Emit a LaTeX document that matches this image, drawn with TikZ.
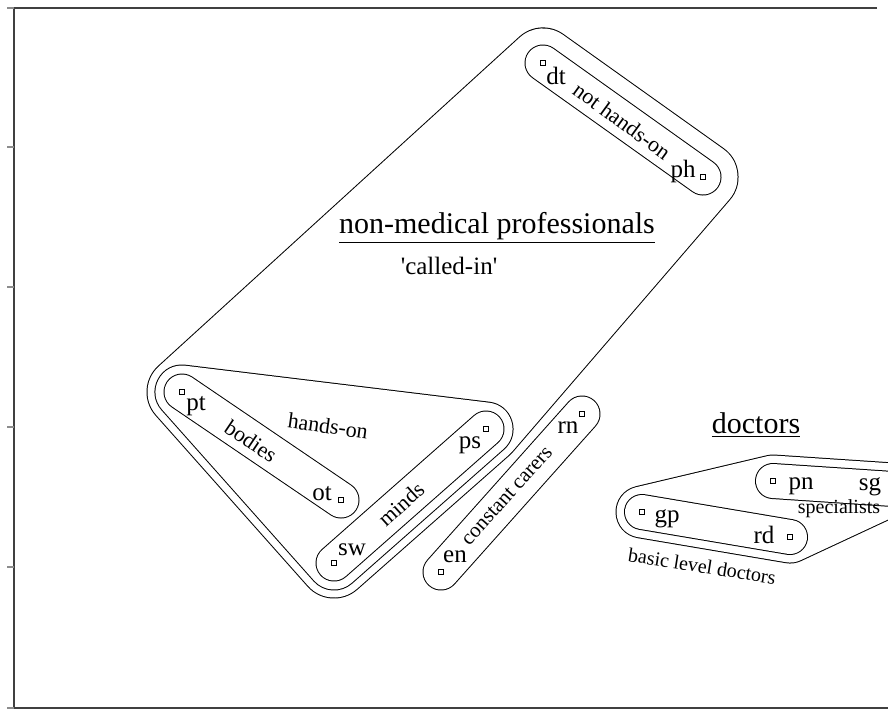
\documentclass[tikz,border=0pt]{standalone}
\usepackage{fontspec}
\setmainfont{Liberation Serif}
\usetikzlibrary{positioning}
\tikzset{
    obj/.style={
        draw,
        rectangle,
        minimum size=2.6pt,
        inner sep=0pt,
        line width=0.4pt,
    },
    objname/.style={font=\fontsize{12.5}{14}\selectfont, inner sep=0pt},
    grouplabel/.style={font=\fontsize{11}{13}\selectfont, inner sep=0pt},
    heading/.style={font=\fontsize{15}{18}\selectfont, inner sep=0pt},
    hull/.style={
        line width=0.5pt,
        double=white,
        double distance=#1,
        line join=round,
        line cap=round,
    },
}

\begin{document}
\begin{tikzpicture}[x=0.5pt, y=-0.5pt]
   \useasboundingbox (0,0) rectangle (888,709);
   \clip (0,0) rectangle (888,709);
   % frame and ticks
   \draw[black!75, line width=0.7pt] (877,8) -- (14,8) -- (14,708) -- (888,708);
   \foreach \ty in {8,147,287,427,567,708}
      \draw[black!45, line width=0.7pt] (7,\ty) -- (14,\ty);

   % members
   \coordinate (dt) at (543,63);
   \coordinate (ph) at (703,177);
   \coordinate (pt) at (182,392);
   \coordinate (ot) at (341,500);
   \coordinate (ps) at (486,429);
   \coordinate (sw) at (334,563);
   \coordinate (rn) at (582,414);
   \coordinate (en) at (441,572);
   \coordinate (gp) at (642,512);
   \coordinate (rd) at (790,537);
   \coordinate (pn) at (773,481);
   \coordinate (sg) at (893,489);

   % non-medical professionals
   \draw[hull=34.5pt] (dt) -- (ph) -- (ps) -- (sw) -- (pt) -- cycle;
   \fill[white] (dt) -- (ph) -- (ps) -- (sw) -- (pt) -- cycle;
   \draw[hull=26.5pt] (pt) -- (ps) -- (sw) -- cycle;
   \fill[white] (pt) -- (ps) -- (sw) -- cycle;
   \draw[hull=17.5pt] (pt) -- (ot);
   \draw[hull=17.5pt] (sw) -- (ps);
   \draw[hull=17.5pt] (dt) -- (ph);
   \draw[hull=17.5pt] (en) -- (rn);

   % doctors
   \draw[hull=25.5pt] (gp) -- (rd) -- (sg) -- (pn) -- cycle;
   \fill[white] (gp) -- (rd) -- (sg) -- (pn) -- cycle;
   \draw[hull=17pt] (gp) -- (rd);
   \draw[hull=17pt] (pn) -- (sg);

   \foreach \m in {dt,ph,pt,ot,ps,sw,rn,en,gp,rd,pn,sg}
      \node[obj] (\m-box) at (\m) {};

   \node[objname] (dt-name) at (556,76) {dt};
   \node[objname] (ph-name) at (683,171) {ph};
   \node[objname] (pt-name) at (196,406) {pt};
   \node[objname] (ot-name) at (322,494) {ot};
   \node[objname] (ps-name) at (470,445) {ps};
   \node[objname] (sw-name) at (352,550) {sw};
   \node[objname] (rn-name) at (568,428) {rn};
   \node[objname] (en-name) at (455,557) {en};
   \node[objname] (gp-name) at (667,519) {gp};
   \node[objname] (rd-name) at (764,535) {rd};
   \node[objname] (pn-name) at (801,486) {pn};
   \node[objname] (sg-name) at (870,487) {sg};

   \node[heading] (nonmed) at (497,228) {\underline{non-medical professionals}};
   \node[objname] (calledin) at (449,266) {\textquotesingle called-in\textquotesingle};
   \node[heading] (doctors) at (756,425) {\underline{doctors}};

   \node[grouplabel, rotate=-36] (nothands) at (622,121) {not hands-on};
   \node[grouplabel, rotate=-8] (handson) at (328,426) {hands-on};
   \node[grouplabel, rotate=-34] (bodies) at (251,441) {bodies};
   \node[grouplabel, rotate=42] (minds) at (401,504) {minds};
   \node[grouplabel, rotate=48, font=\fontsize{10.5}{12}\selectfont] (carers) at (507,496) {constant carers};
   \node[grouplabel, rotate=-9, font=\fontsize{10}{12}\selectfont] (basic) at (702,566) {basic level doctors};
   \node[grouplabel, font=\fontsize{10}{12}\selectfont] (special) at (839,509) {specialists};
\end{tikzpicture}
\end{document}
